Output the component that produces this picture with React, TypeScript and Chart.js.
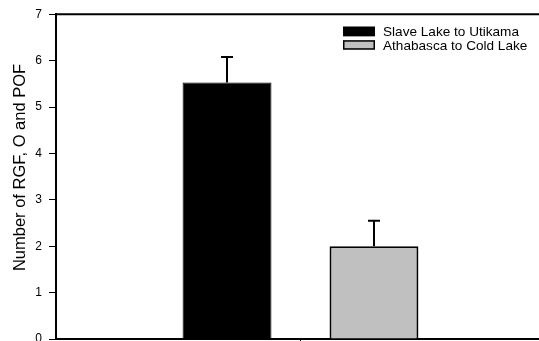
import React, { useEffect, useRef } from 'react';
import { Chart, registerables } from 'chart.js';

Chart.register(...registerables);

const categories = [''];
const seriesLabels = ['Slave Lake to Utikama', 'Athabasca to Cold Lake'];
const slaveLakeMean = [5.53];
const athabascaMean = [2.0];
const slaveLakeErr = [0.55];
const athabascaErr = [0.55];
const seriesColors = ['#000000', '#c0c0c0'];
const yAxisTitle = 'Number of RGF, O and POF';
const yMin = 0;
const yMax = 7;

const FONT = '"Liberation Sans", Arial, Helvetica, sans-serif';

const errorBarPlugin = {
  id: 'errorBars',
  afterDatasetsDraw(chart: any) {
    const ctx = chart.ctx;
    const yScale = chart.scales.y;
    const errs = [slaveLakeErr, athabascaErr];
    ctx.save();
    ctx.strokeStyle = '#000';
    ctx.lineWidth = 2;
    chart.data.datasets.forEach((ds: any, i: number) => {
      const meta = chart.getDatasetMeta(i);
      meta.data.forEach((bar: any, j: number) => {
        const v = ds.data[j];
        const e = errs[i][j];
        const yTop = yScale.getPixelForValue(v + e);
        const yBar = yScale.getPixelForValue(v);
        const x = Math.round(bar.x);
        ctx.beginPath();
        ctx.moveTo(x, yBar);
        ctx.lineTo(x, yTop);
        ctx.moveTo(x - 6, yTop);
        ctx.lineTo(x + 6, yTop);
        ctx.stroke();
      });
    });
    ctx.restore();
  },
};

const framePlugin = {
  id: 'frameAndLegend',
  afterDraw(chart: any) {
    const ctx = chart.ctx;
    const a = chart.chartArea;
    ctx.save();
    // top frame line
    ctx.strokeStyle = '#000';
    ctx.lineWidth = 2;
    ctx.beginPath();
    ctx.moveTo(a.left, a.top);
    ctx.lineTo(a.right, a.top);
    ctx.lineTo(a.right, a.bottom);
    ctx.stroke();

    // legend
    const bx = a.left + 287;
    const by = a.top + 12.5;
    const rowH = 13.5;
    ctx.font = `13.6px ${FONT}`;
    ctx.textBaseline = 'alphabetic';
    ctx.textAlign = 'left';
    seriesLabels.forEach((lab, i) => {
      const y = by + i * rowH;
      ctx.fillStyle = seriesColors[i];
      ctx.fillRect(bx, y, 32, 9.5);
      ctx.strokeStyle = '#000';
      ctx.lineWidth = 1.5;
      ctx.strokeRect(bx + 0.75, y + 0.75, 30.5, 8);
      ctx.fillStyle = '#000';
      ctx.fillText(lab, bx + 40, y + 9.3);
    });

    // y axis title
    ctx.translate(25, 167.5);
    ctx.rotate(-Math.PI / 2);
    ctx.font = `16.5px ${FONT}`;
    ctx.textAlign = 'center';
    ctx.textBaseline = 'alphabetic';
    ctx.fillStyle = '#000';
    ctx.fillText(yAxisTitle, 0, 0);
    ctx.restore();
  },
};

export default function App() {
  const ref = useRef<HTMLCanvasElement | null>(null);
  useEffect(() => {
    if (!ref.current) return;
    const chart = new Chart(ref.current, {
      type: 'bar',
      data: {
        labels: categories,
        datasets: [
          {
            label: seriesLabels[0],
            data: slaveLakeMean,
            backgroundColor: seriesColors[0],
            borderColor: '#000',
            borderWidth: 1,
          },
          {
            label: seriesLabels[1],
            data: athabascaMean,
            backgroundColor: seriesColors[1],
            borderColor: '#000',
            borderWidth: 2,
          },
        ],
      },
      options: {
        responsive: false,
        animation: false,
        devicePixelRatio: 1,
        categoryPercentage: 0.601,
        barPercentage: 0.605,
        layout: { padding: { left: 0, right: 15, top: 12, bottom: 0 } },
        plugins: {
          legend: { display: false },
          tooltip: { enabled: false },
        },
        scales: {
          x: {
            afterFit: (s: any) => {
              s.height = 21;
            },
            grid: {
              offset: false,
              drawOnChartArea: false,
              drawTicks: true,
              tickLength: 6,
              color: '#000',
              lineWidth: 1,
            },
            border: { display: true, color: '#000', width: 2 },
            ticks: { display: false },
          },
          y: {
            min: yMin,
            max: yMax,
            afterFit: (s: any) => {
              s.width = 56;
            },
            grid: {
              drawOnChartArea: false,
              drawTicks: true,
              tickLength: 7,
              color: '#000',
              lineWidth: 1,
            },
            border: { display: true, color: '#000', width: 2 },
            ticks: {
              stepSize: 1,
              padding: 7,
              color: '#000',
              font: { family: FONT, size: 12 },
            },
          },
        },
      },
      plugins: [errorBarPlugin, framePlugin],
    } as any);
    return () => chart.destroy();
  }, []);
  return (
    <div style={{ position: 'fixed', left: 0, top: 0, width: 560, height: 360, background: '#fff' }}>
      <canvas ref={ref} width={560} height={360} style={{ display: 'block' }} />
    </div>
  );
}
